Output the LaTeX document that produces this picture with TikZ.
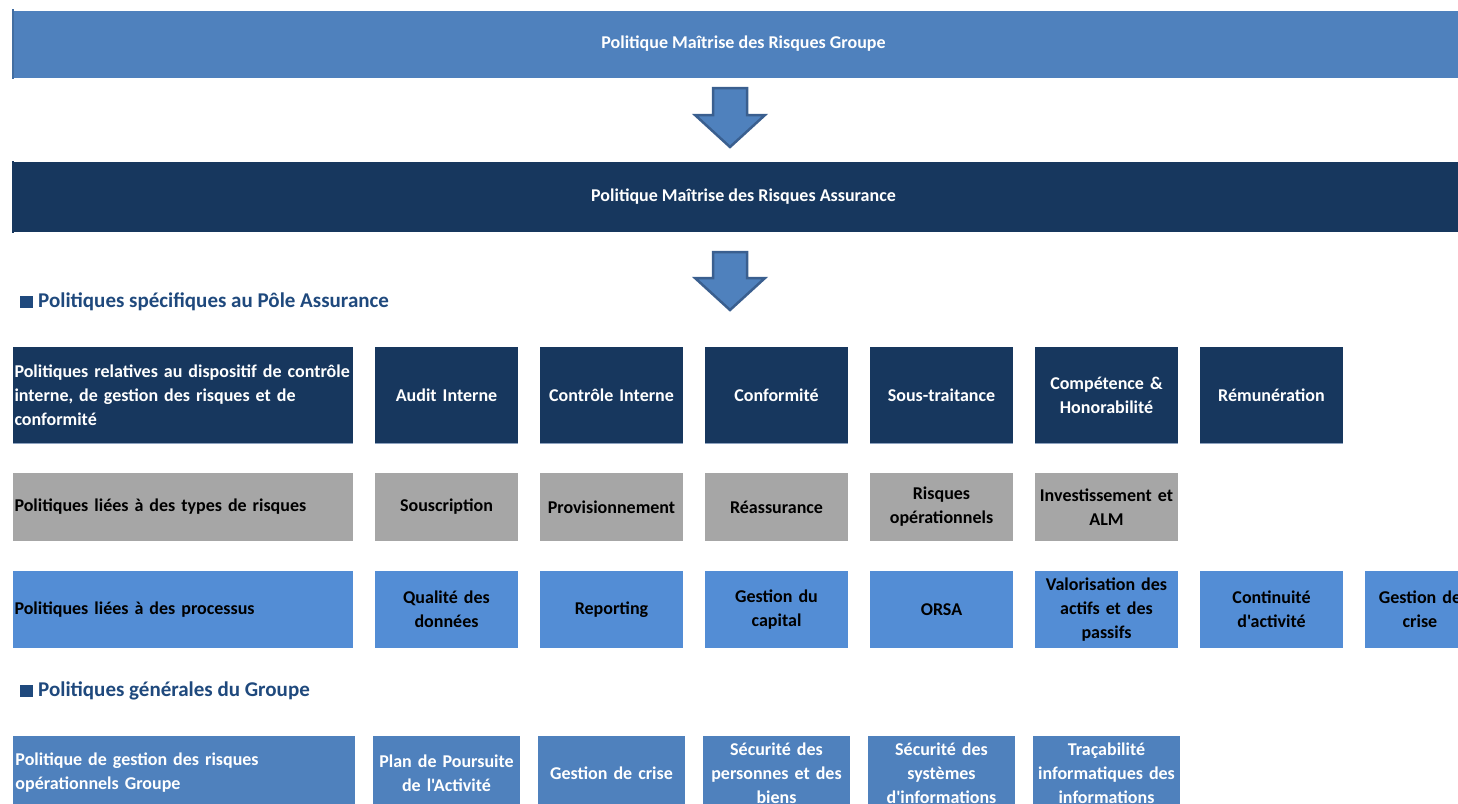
\documentclass[tikz,border=0pt]{standalone}
\usepackage{fontspec}
\newfontfamily\carl{Carlito}
\definecolor{barblue}{HTML}{4F81BD}
\definecolor{navy}{HTML}{17375E}
\definecolor{greyc}{HTML}{A6A6A6}
\definecolor{procblue}{HTML}{538DD5}
\definecolor{arrowedge}{HTML}{3A5F8F}
\definecolor{headblue}{HTML}{1F497D}
\definecolor{edgeline}{HTML}{8DA2BF}
\begin{document}
\begin{tikzpicture}[x=1pt,y=-1pt,
  base/.style={rectangle, inner sep=0pt, outer sep=0pt, font=\carl\bfseries\fontsize{18}{24}\selectfont},
  wide/.style={base, minimum width=340pt, text width=337pt, align=left},
  narrow/.style={base, minimum width=143pt, text width=143pt, align=center},
  narrowb/.style={base, minimum width=147pt, text width=147pt, align=center},
  bar/.style={base, minimum width=1463pt, minimum height=67pt, align=center},
  rowA/.style={fill=navy, text=white, minimum height=97pt},
  rowB/.style={fill=greyc, text=black, minimum height=68pt},
  rowC/.style={fill=procblue, text=black, minimum height=77pt},
  rowD/.style={fill=barblue, text=white, minimum height=74pt},
  blockarrow/.style={fill=barblue, draw=arrowedge, line width=2.5pt, line join=miter},
  heading/.style={anchor=west, inner sep=0pt, text=headblue, font=\carl\bfseries\fontsize{21}{24}\selectfont},
  marker/.style={rectangle, fill=headblue, inner sep=0pt, minimum width=13pt, minimum height=12pt}
]
\useasboundingbox (0,0) rectangle (1458,803);
\clip (0,0) rectangle (1458,803);

% top bars
\node[bar, fill=barblue, text=white, minimum height=67pt] (groupe) at (743.5,44) {Politique Maîtrise des Risques Groupe};
\draw[barblue!85!black, line width=2pt] (13,9) -- (13,79);
\node[bar, fill=navy, text=white, minimum height=70pt] (assur) at (743.5,196.5) {Politique Maîtrise des Risques Assurance};
\draw[navy, line width=2pt] (13,161) -- (13,233);

% block arrows
\coordinate (a1) at (730,88);
\coordinate (a2) at (730,252);
\draw[blockarrow] ([xshift=-17pt]a1) -- ([xshift=17pt]a1) -- ([xshift=17pt,yshift=-27pt]a1) -- ([xshift=35pt,yshift=-27pt]a1) -- ([yshift=-59pt]a1) -- ([xshift=-35pt,yshift=-27pt]a1) -- ([xshift=-17pt,yshift=-27pt]a1) -- cycle;
\draw[blockarrow] ([xshift=-17pt]a2) -- ([xshift=17pt]a2) -- ([xshift=17pt,yshift=-26pt]a2) -- ([xshift=35pt,yshift=-26pt]a2) -- ([yshift=-58pt]a2) -- ([xshift=-35pt,yshift=-26pt]a2) -- ([xshift=-17pt,yshift=-26pt]a2) -- cycle;

% heading 1
\node[marker] (m1) at (26.5,302) {};
\node[heading] (h1) at (38,302) {Politiques spécifiques au Pôle Assurance};

% row A
\node[wide, rowA] (a0) at (183,395) {Politiques relatives au dispositif de contrôle\\interne, de gestion des risques et de\\conformité};
\node[narrow, rowA] (aa) at (446.5,395) {Audit Interne};
\node[narrow, rowA] (ab) at (611.5,395) {Contrôle Interne};
\node[narrow, rowA] (ac) at (776.5,395) {Conformité};
\node[narrow, rowA] (ad) at (941.5,395) {Sous-traitance};
\node[narrow, rowA] (ae) at (1106.5,395) {Compétence \&\\Honorabilité};
\node[narrow, rowA] (af) at (1271.5,395) {Rémunération};
\foreach \n in {a0,aa,ab,ac,ad,ae,af}{\draw[edgeline, line width=1pt] (\n.south west) -- (\n.south east);}

% row B
\node[wide, rowB] (b0) at (183,507) {Politiques liées à des types de risques};
\node[narrow, rowB] (ba) at (446.5,507) {Souscription};
\node[narrow, rowB] (bb) at (611.5,507) {Provisionnement};
\node[narrow, rowB] (bc) at (776.5,507) {Réassurance};
\node[narrow, rowB] (bd) at (941.5,507) {Risques\\opérationnels};
\node[narrow, rowB] (be) at (1106.5,507) {Investissement et\\ALM};

% row C
\node[wide, rowC] (c0) at (183,609.5) {Politiques liées à des processus};
\node[narrow, rowC] (ca) at (446.5,609.5) {Qualité des\\données};
\node[narrow, rowC] (cb) at (611.5,609.5) {Reporting};
\node[narrow, rowC] (cc) at (776.5,609.5) {Gestion du\\capital};
\node[narrow, rowC] (cd) at (941.5,609.5) {ORSA};
\node[narrow, rowC] (ce) at (1106.5,609.5) {Valorisation des\\actifs et des\\passifs};
\node[narrow, rowC] (cf) at (1271.5,609.5) {Continuité\\d'activité};
\node[base, rowC, minimum width=110pt, text width=110pt, align=center] (cg) at (1420,609.5) {Gestion de\\crise};

% heading 2
\node[marker] (m2) at (26.5,691) {};
\node[heading] (h2) at (38,691) {Politiques générales du Groupe};

% row D
\node[wide, rowD, minimum width=342pt] (d0) at (184,773) {Politique de gestion des risques\\opérationnels Groupe};
\node[narrowb, rowD] (da) at (446.5,773) {Plan de Poursuite\\de l'Activité};
\node[narrowb, rowD] (db) at (611.5,773) {Gestion de crise};
\node[narrowb, rowD] (dc) at (776.5,773) {Sécurité des\\personnes et des\\biens};
\node[narrowb, rowD] (dd) at (941.5,773) {Sécurité des\\systèmes\\d'informations};
\node[narrowb, rowD] (de) at (1106.5,773) {Traçabilité\\informatiques des\\informations};
\end{tikzpicture}
\end{document}
